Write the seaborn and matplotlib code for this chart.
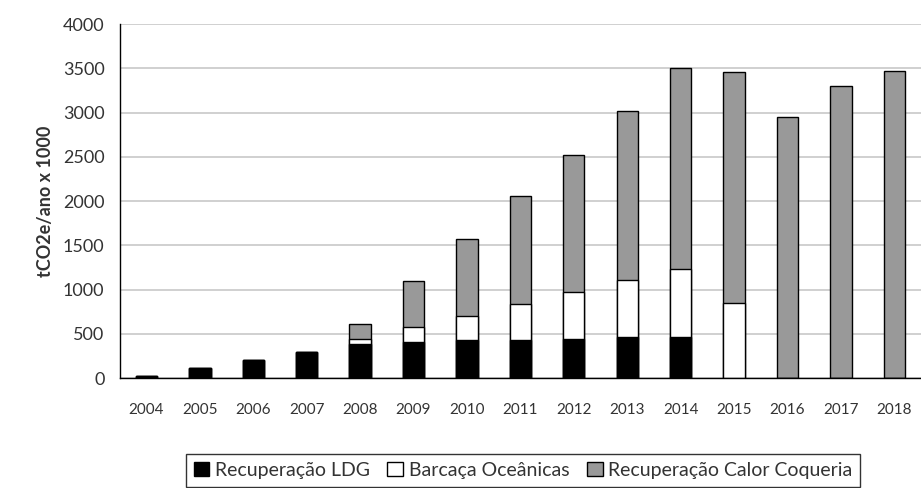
import numpy as np
import pandas as pd
import seaborn as sns
import matplotlib.pyplot as plt
from matplotlib.patches import Patch

years = ['2004', '2005', '2006', '2007', '2008', '2009', '2010', '2011',
         '2012', '2013', '2014', '2015', '2016', '2017', '2018']
ldg = [19, 109, 200, 290, 380, 410, 426, 426, 444, 460, 460, 0, 0, 0, 0]
barcaca = [0, 0, 0, 0, 56, 166, 271, 407, 528, 647, 768, 851, 0, 0, 0]
calor = [0, 0, 0, 0, 174, 520, 870, 1223, 1551, 1906, 2275, 2603, 2949, 3303, 3469]
labels = ['Recuperação LDG', 'Barcaça Oceânicas', 'Recuperação Calor Coqueria']
colors = ['#000000', '#ffffff', '#999999']

df = pd.DataFrame({'Ano': years, 'LDG': ldg, 'Barcaca': barcaca, 'Calor': calor})
df['c1'] = df['LDG']
df['c2'] = df['c1'] + df['Barcaca']
df['c3'] = df['c2'] + df['Calor']

sns.set_style('white')
plt.rcParams['font.family'] = ['Lato', 'DejaVu Sans']

fig = plt.figure(figsize=(9.21, 4.88), dpi=100)
ax = fig.add_axes([0.130, 0.2254, 0.87, 0.7254])

# stacked bars: draw cumulative totals from the top layer down
for col, c in zip(['c3', 'c2', 'c1'], colors[::-1]):
    sns.barplot(data=df, x='Ano', y=col, order=years, color=c, width=0.4,
                edgecolor='black', linewidth=1.0, saturation=1, ax=ax, zorder=3)

ax.set_ylim(0, 4000)
ax.set_xlim(-0.5, 14.25)
ax.set_yticks(np.arange(0, 4001, 500))
ax.yaxis.grid(True, color='#c8c8c8', linewidth=1.2, zorder=0)
ax.set_axisbelow(True)
for s in ['top', 'right']:
    ax.spines[s].set_visible(False)
for s in ['left', 'bottom']:
    ax.spines[s].set_color('black')
    ax.spines[s].set_linewidth(1.0)

ax.set_xticks(np.arange(-0.5, 15, 1), minor=True)
ax.tick_params(axis='x', which='major', length=0, pad=18, labelsize=11, colors='#333333')
ax.tick_params(axis='x', which='minor', length=5, width=1, color='black', direction='out')
ax.tick_params(axis='y', length=5, width=1, color='black', direction='out', pad=6,
               labelsize=13, labelcolor='#333333')
ax.set_xlabel('')
ax.set_ylabel('tCO2e/ano x 1000', fontsize=13, fontweight='bold', color='#333333', labelpad=6)

handles = [Patch(facecolor=c, edgecolor='black', linewidth=1) for c in colors]
fig.legend(handles, labels, loc='upper center', bbox_to_anchor=(0.568, 0.09),
           ncol=3, frameon=True, fancybox=False, edgecolor='black', fontsize=14,
           handlelength=0.8, handleheight=0.8, handletextpad=0.3, columnspacing=0.9,
           borderpad=0.4, labelcolor='#333333')

plt.savefig('out.png', dpi=100)
plt.close()
